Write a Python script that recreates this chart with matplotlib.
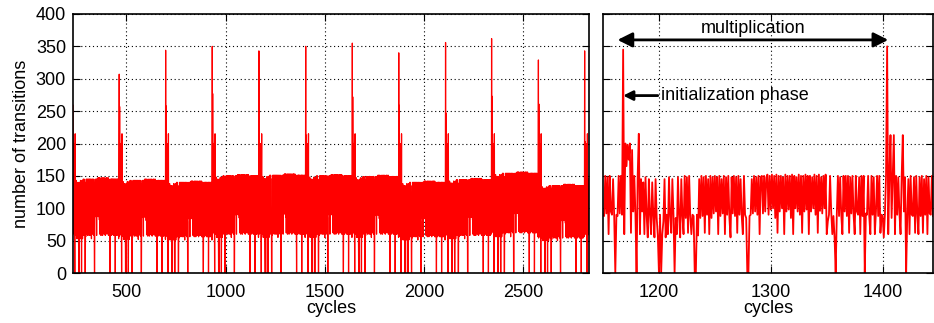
import numpy as np
import matplotlib
matplotlib.use('Agg')
from matplotlib import pyplot as plt

plt.rcParams['font.family'] = ['Liberation Sans', 'DejaVu Sans']
plt.rcParams['font.size'] = 13

# transitions per cycle, cycles 1150..1445 (zoomed view)
zoom_start = 1150
zoom_vals = [
    90, 88, 150, 92, 148, 60, 150, 95, 90, 145,
    88, 0, 90, 88, 150, 92, 150, 90, 345, 60,
    200, 165, 198, 175, 200, 62, 190, 95, 150, 90,
    0, 150, 215, 60, 145, 95, 140, 60, 148, 90,
    55, 145, 90, 60, 140, 88, 55, 145, 85, 58,
    0, 90, 0, 60, 80, 145, 55, 90, 60, 148,
    88, 62, 145, 90, 0, 85, 60, 148, 90, 55,
    145, 88, 60, 150, 85, 148, 62, 150, 88, 60,
    90, 88, 0, 0, 90, 58, 145, 85, 150, 88,
    148, 62, 150, 90, 145, 60, 150, 85, 148, 92,
    150, 95, 148, 60, 150, 88, 145, 92, 150, 60,
    148, 90, 150, 85, 55, 148, 92, 150, 88, 148,
    62, 150, 90, 145, 88, 60, 150, 90, 85, 0,
    0, 88, 90, 145, 92, 150, 95, 148, 90, 150,
    60, 148, 150, 92, 150, 95, 148, 152, 90, 150,
    98, 152, 100, 150, 85, 152, 62, 150, 95, 150,
    100, 148, 60, 152, 95, 150, 98, 150, 85, 152,
    60, 150, 100, 148, 95, 152, 90, 150, 62, 150,
    95, 152, 98, 150, 60, 150, 95, 148, 100, 152,
    90, 150, 62, 152, 96, 148, 92, 150, 100, 152,
    60, 80, 90, 150, 95, 60, 88, 55, 0, 90,
    150, 88, 148, 90, 60, 150, 95, 150, 88, 150,
    62, 148, 92, 150, 90, 60, 150, 95, 90, 148,
    60, 150, 88, 150, 0, 92, 90, 150, 88, 60,
    150, 90, 148, 60, 95, 150, 88, 150, 62, 90,
    88, 55, 90, 150, 350, 60, 150, 213, 85, 150,
    213, 60, 150, 90, 148, 92, 60, 150, 213, 95,
    148, 0, 90, 145, 60, 150, 90, 88, 148, 62,
    150, 90, 60, 148, 88, 150, 62, 145, 90, 150,
    60, 148, 92, 90, 150, 88,
]

# full run: start of each multiplication, its peak, the hump after it,
# and the top of the band that follows
run_start, run_end = 231, 2832
first_value = 259
mult_starts = [464, 698, 933, 1168, 1404, 1639, 1873, 2109, 2341, 2578, 2811]
peak_vals = [307, 344, 350, 343, 350, 355, 340, 356, 362, 329, 343]
hump_vals = [257, 258, 277, 200, 213, 272, 259, 247, 273, 261, 203]
band_tops = [147, 145, 142, 152, 153, 152, 151, 142, 146, 156, 137, 150]

# one multiplication of the trace (1168..1403) is reused for every run
zoom_vals = np.array(zoom_vals, dtype=float)
period = zoom_vals[1168 - zoom_start:1404 - zoom_start]


def scaled(seg, top):
    seg = seg.copy()
    low = seg <= 160
    seg[low] = np.round(seg[low] * top / 152.0)
    return seg


pieces = []
pre = scaled(period[-(mult_starts[0] - run_start):], band_tops[0])
pre[0] = first_value
pieces.append(pre)
for i, s in enumerate(mult_starts):
    nxt = mult_starts[i + 1] if i + 1 < len(mult_starts) else run_end + 1
    seg = scaled(period[:nxt - s], band_tops[i + 1])
    seg[0] = peak_vals[i]
    if len(seg) > 2:
        seg[2] = hump_vals[i]
    pieces.append(seg)
run_vals = np.concatenate(pieces)
run_cycles = np.arange(run_start, run_start + len(run_vals))
zoom_cycles = np.arange(zoom_start, zoom_start + len(zoom_vals))

fig = plt.figure(figsize=(9.34, 3.23), dpi=100)
ax1 = fig.add_axes([73 / 934, 1 - 273 / 323, (589 - 73) / 934, 259 / 323])
ax2 = fig.add_axes([603 / 934, 1 - 273 / 323, (933 - 603) / 934, 259 / 323])

for ax in (ax1, ax2):
    ax.set_ylim(0, 400)
    ax.set_yticks(np.arange(0, 401, 50))
    ax.grid(True, color='black', linestyle=(0, (1, 2.5)), linewidth=0.8)
    ax.tick_params(direction='in', top=True, right=True, length=5, width=0.8,
                   colors='black', labelsize=13)
    ax.tick_params(axis='x', pad=8)
    ax.tick_params(axis='y', pad=5)
    for sp in ax.spines.values():
        sp.set_linewidth(1.2)
    ax.set_xlabel('cycles', labelpad=-1)

ax1.plot(run_cycles, run_vals, color='#ff0000', linewidth=0.9)
ax1.set_xlim(run_start, run_end)
ax1.set_xticks([500, 1000, 1500, 2000, 2500])
ax1.set_ylabel('number of transitions', labelpad=4)

ax2.plot(zoom_cycles, zoom_vals, color='#ff0000', linewidth=1.3)
ax2.set_xlim(1150, 1445)
ax2.set_xticks([1200, 1300, 1400])
ax2.set_yticklabels([])

ax2.annotate('', xy=(1163, 360), xytext=(1405, 360),
             arrowprops=dict(arrowstyle='<|-|>', color='black', lw=2,
                             mutation_scale=22, shrinkA=0, shrinkB=0))
ax2.text(1284, 377, 'multiplication', ha='center', va='center', fontsize=13)
ax2.annotate('', xy=(1168, 274), xytext=(1199, 274),
             arrowprops=dict(arrowstyle='-|>', color='black', lw=2,
                             mutation_scale=14, shrinkA=0, shrinkB=0))
ax2.text(1202, 274, 'initialization phase', ha='left', va='center', fontsize=13)

fig.savefig('out.png', dpi=100)
